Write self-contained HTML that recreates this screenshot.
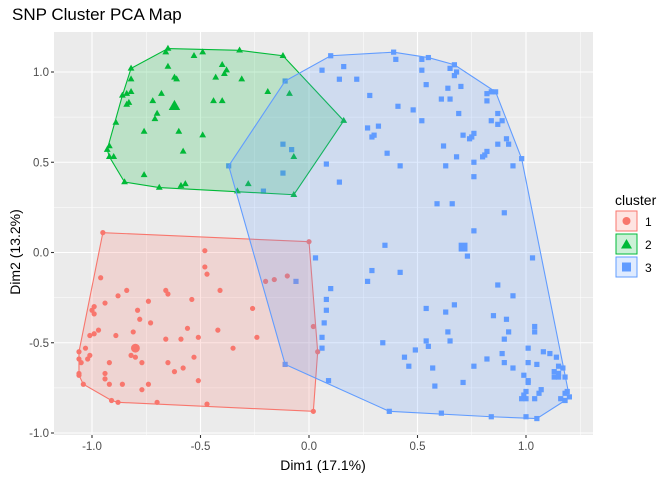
<!DOCTYPE html>
<html><head><meta charset="utf-8">
<style>
body{margin:0;background:#fff;}
svg{display:block;font-family:"Liberation Sans",sans-serif;}
</style></head>
<body>
<svg id="chart" width="672" height="480" viewBox="0 0 672 480">
<text x="12" y="20" font-size="17" fill="#000">SNP Cluster PCA Map</text>
<rect x="54" y="32" width="539" height="403" fill="#EBEBEB"/>
<g id="grid"></g>
<g id="marks"></g>
<g id="axes"></g>
<text x="323" y="470" font-size="14" text-anchor="middle">Dim1 (17.1%)</text>
<text transform="translate(20,252) rotate(-90)" font-size="14" text-anchor="middle">Dim2 (13.2%)</text>
<g>
<text x="615" y="205" font-size="14">cluster</text>
<g>
<rect x="616" y="211" width="21" height="20" fill="#F8766D" fill-opacity="0.2" stroke="#F8766D" stroke-width="1"/>
<circle cx="626.5" cy="221" r="4" fill="#F8766D"/>
<text x="645" y="226" font-size="12">1</text></g>
<g>
<rect x="616" y="234" width="21" height="20" fill="#00BA38" fill-opacity="0.2" stroke="#00BA38" stroke-width="1"/>
<polygon points="626.5,239 632,248.5 621,248.5" fill="#00BA38"/>
<text x="645" y="249" font-size="12">2</text></g>
<g>
<rect x="616" y="257" width="21" height="20" fill="#619CFF" fill-opacity="0.2" stroke="#619CFF" stroke-width="1"/>
<rect x="622" y="262.5" width="9" height="9" fill="#619CFF"/>
<text x="645" y="272" font-size="12">3</text></g>
</g>
</svg>
<script>
const xTicks=[-1.0,-0.5,0.0,0.5,1.0];
const yTicks=[-1.0,-0.5,0.0,0.5,1.0];
const xTickLabels=["-1.0","-0.5","0.0","0.5","1.0"];
const yTickLabels=["-1.0","-0.5","0.0","0.5","1.0"];
const c1x=[-0.95,0.00,-0.48,-0.48,-0.47,-0.96,-0.20,-0.16,-0.10,-0.84,-0.66,-0.65,-0.41,-0.88,-0.94,-0.74,-0.54,-0.99,-1.00,-0.79,-0.99,-0.78,-0.73,-0.26,0.02,-0.97,-0.99,-0.81,-0.89,-1.01,-0.56,-0.42,-0.66,-0.59,-0.51,-0.24,-1.03,-1.06,-0.35,0.04,-1.01,-0.82,-0.80,-1.06,-1.02,-1.05,-0.77,-0.53,-0.92,-0.65,-0.58,-1.06,-0.94,-0.62,-1.06,-0.94,-0.92,-0.51,-1.04,-0.86,-0.74,-0.77,-0.91,-0.88,-0.70,-0.47,0.02];
const c1y=[0.11,0.06,0.01,-0.08,-0.12,-0.14,-0.16,-0.15,-0.13,-0.21,-0.21,-0.23,-0.21,-0.24,-0.28,-0.27,-0.26,-0.30,-0.32,-0.32,-0.34,-0.37,-0.39,-0.31,-0.41,-0.43,-0.45,-0.44,-0.46,-0.46,-0.42,-0.43,-0.48,-0.48,-0.47,-0.47,-0.53,-0.55,-0.53,-0.55,-0.57,-0.57,-0.58,-0.59,-0.59,-0.61,-0.61,-0.58,-0.61,-0.61,-0.64,-0.67,-0.67,-0.66,-0.68,-0.70,-0.73,-0.71,-0.73,-0.73,-0.73,-0.76,-0.82,-0.83,-0.83,-0.84,-0.88];
const c2x=[-0.65,-0.66,-0.53,-0.49,-0.32,-0.12,-0.82,-0.65,-0.40,-0.38,-0.39,-0.82,-0.62,-0.61,-0.43,-0.31,-0.84,-0.82,-0.86,-0.68,-0.72,-0.83,-0.84,-0.44,-0.40,-0.19,-0.09,-0.70,-0.71,-0.89,-0.76,-0.60,-0.49,-0.58,-0.92,-0.93,-0.92,-0.90,-0.76,-0.85,-0.69,-0.59,-0.57,-0.33,-0.28,-0.07,-0.07,0.16];
const c2y=[1.13,1.11,1.09,1.11,1.12,1.09,1.02,1.03,1.04,1.01,0.99,0.96,0.97,0.96,0.97,0.96,0.88,0.89,0.87,0.88,0.84,0.83,0.82,0.84,0.84,0.89,0.88,0.77,0.74,0.72,0.67,0.67,0.65,0.56,0.59,0.57,0.53,0.53,0.43,0.39,0.36,0.37,0.38,0.34,0.38,0.32,0.53,0.73];
const c3x=[0.10,0.39,0.40,0.55,0.52,0.16,0.06,0.52,0.65,0.67,0.68,0.67,0.14,0.22,-0.11,0.54,0.70,0.64,0.28,0.61,0.65,0.82,0.84,0.86,0.82,0.41,0.48,0.69,0.87,0.52,0.84,0.89,0.87,0.27,0.32,0.29,0.30,0.76,0.71,0.75,0.74,0.91,-0.12,-0.08,0.62,0.87,0.92,0.36,0.82,0.81,0.80,0.68,0.98,-0.37,0.08,0.42,0.63,0.76,0.94,-0.12,0.76,0.14,-0.21,0.59,0.66,0.90,0.76,0.35,0.73,0.03,1.03,0.29,0.42,0.27,-0.06,0.10,0.87,0.94,0.08,0.08,0.54,0.67,0.63,0.85,0.91,0.07,1.04,1.04,0.64,0.92,0.06,0.54,0.55,0.65,0.90,0.34,0.06,1.01,0.49,1.08,1.11,1.14,0.89,0.44,0.82,-0.11,1.01,1.05,0.90,0.46,0.94,0.76,0.57,1.15,1.17,1.13,1.15,1.13,1.15,1.18,0.99,1.01,1.01,0.09,0.71,0.58,1.07,1.06,1.19,1.00,1.18,1.20,0.99,0.98,1.00,1.04,1.16,1.18,0.37,0.61,0.84,1.00,1.05];
const c3y=[1.09,1.11,1.07,1.08,1.07,1.03,1.01,1.01,1.02,1.04,1.00,0.98,0.96,0.96,0.95,0.93,0.92,0.91,0.87,0.85,0.85,0.88,0.89,0.89,0.84,0.81,0.79,0.77,0.77,0.73,0.73,0.73,0.71,0.69,0.70,0.64,0.65,0.66,0.65,0.64,0.63,0.63,0.60,0.57,0.59,0.60,0.60,0.55,0.56,0.54,0.53,0.53,0.52,0.48,0.49,0.48,0.48,0.50,0.48,0.44,0.42,0.39,0.34,0.27,0.27,0.22,0.12,0.04,-0.02,-0.03,-0.03,-0.10,-0.11,-0.16,-0.16,-0.20,-0.18,-0.24,-0.26,-0.32,-0.31,-0.29,-0.33,-0.35,-0.37,-0.39,-0.41,-0.44,-0.44,-0.44,-0.47,-0.49,-0.52,-0.49,-0.48,-0.50,-0.53,-0.53,-0.54,-0.55,-0.56,-0.58,-0.56,-0.58,-0.59,-0.62,-0.61,-0.62,-0.61,-0.63,-0.64,-0.63,-0.64,-0.63,-0.64,-0.66,-0.67,-0.69,-0.69,-0.69,-0.68,-0.71,-0.72,-0.71,-0.72,-0.74,-0.76,-0.78,-0.77,-0.77,-0.78,-0.80,-0.79,-0.81,-0.81,-0.81,-0.81,-0.82,-0.88,-0.89,-0.91,-0.91,-0.92];
const centerX=[-0.80,-0.62,0.71];
const centerY=[-0.53,0.81,0.03];
const clusterNames=["1","2","3"];

const NS="http://www.w3.org/2000/svg";
const L=54,R=593,T=32,B=435;
function sx(v){return 309+(v-0.0)*217;}
function sy(v){return 252.5-v*180.5;}
function mk(tag,attrs,parent){const e=document.createElementNS(NS,tag);for(const k in attrs)e.setAttribute(k,attrs[k]);parent.appendChild(e);return e;}
const grid=document.getElementById('grid'),marks=document.getElementById('marks'),axes=document.getElementById('axes');
for(let v=-1.25;v<=1.26;v+=0.5){const x=sx(v);if(x>L&&x<R){const l=mk('line',{x1:x,x2:x,y1:T,y2:B,stroke:'#fff','stroke-width':0.5},grid);

}
const y=sy(v);if(y>T&&y<B){const l=mk('line',{x1:L,x2:R,y1:y,y2:y,stroke:'#fff','stroke-width':0.5},grid);

}}
xTicks.forEach((v,i)=>{const x=sx(v);
const l=mk('line',{x1:x,x2:x,y1:T,y2:B,stroke:'#fff','stroke-width':1.1},grid);


mk('line',{x1:x,x2:x,y1:B,y2:B+3,stroke:'#333','stroke-width':1.1},axes);
const t=mk('text',{x:x,y:B+15,'font-size':11.5,fill:'#4d4d4d','text-anchor':'middle'},axes);t.textContent=xTickLabels[i];

});
yTicks.forEach((v,i)=>{const y=sy(v);
const l=mk('line',{x1:L,x2:R,y1:y,y2:y,stroke:'#fff','stroke-width':1.1},grid);


mk('line',{x1:L-3,x2:L,y1:y,y2:y,stroke:'#333','stroke-width':1.1},axes);
const t=mk('text',{x:L-5,y:y+4,'font-size':11.5,fill:'#4d4d4d','text-anchor':'end'},axes);t.textContent=yTickLabels[i];

});
function hull(xs,ys){const p=xs.map((x,i)=>[sx(x),sy(ys[i])]).sort((a,b)=>a[0]-b[0]||a[1]-b[1]);
const cr=(o,a,b)=>(a[0]-o[0])*(b[1]-o[1])-(a[1]-o[1])*(b[0]-o[0]);
const lo=[],up=[];for(const q of p){while(lo.length>=2&&cr(lo[lo.length-2],lo[lo.length-1],q)<=0)lo.pop();lo.push(q);}
for(let i=p.length-1;i>=0;i--){const q=p[i];while(up.length>=2&&cr(up[up.length-2],up[up.length-1],q)<=0)up.pop();up.push(q);}
lo.pop();up.pop();return lo.concat(up);}
const cols=["#F8766D","#00BA38","#619CFF"];
const data=[[c1x,c1y],[c2x,c2y],[c3x,c3y]];
function drawPt(k,x,y,big,g){const s=big?1.7:1;let e;
if(k===0)e=mk('circle',{cx:x,cy:y,r:2.6*s,fill:cols[0]},g);
else if(k===1)e=mk('polygon',{points:`${x},${y-3.8*s} ${x+3.4*s},${y+2.2*s} ${x-3.4*s},${y+2.2*s}`,fill:cols[1]},g);
else e=mk('rect',{x:x-2.6*s,y:y-2.6*s,width:5.2*s,height:5.2*s,fill:cols[2]},g);
return e;}
data.forEach((d,k)=>{const g=mk('g',{},marks);


d[0].forEach((v,i)=>{const e=drawPt(k,sx(v),sy(d[1][i]),false,g);

});
const c=drawPt(k,sx(centerX[k]),sy(centerY[k]),true,g);

});
data.forEach((d,k)=>{const h=hull(d[0],d[1]);
const p=mk('polygon',{points:h.map(q=>q.join(',')).join(' '),fill:cols[k],'fill-opacity':0.2,stroke:cols[k],'stroke-width':1.1},marks);

});
</script>
</body></html>
